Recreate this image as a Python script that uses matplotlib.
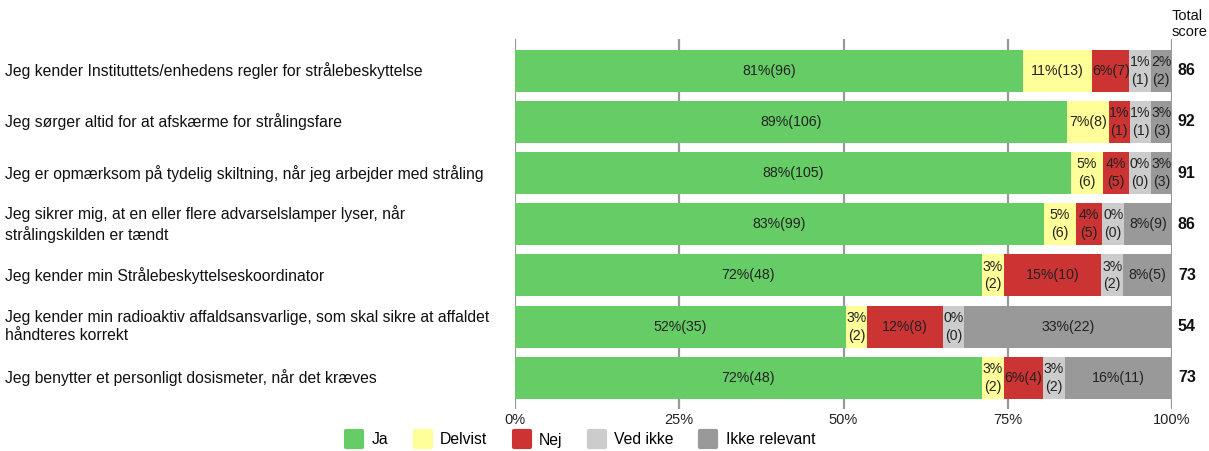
import matplotlib.pyplot as plt
from matplotlib.lines import Line2D
from matplotlib.markers import MarkerStyle
import matplotlib.transforms as mtransforms

plt.rcParams['font.family'] = ['Liberation Sans', 'DejaVu Sans']

# data
questions = [
    'Jeg kender Instituttets/enhedens regler for strålebeskyttelse',
    'Jeg sørger altid for at afskærme for strålingsfare',
    'Jeg er opmærksom på tydelig skiltning, når jeg arbejder med stråling',
    'Jeg sikrer mig, at en eller flere advarselslamper lyser, når\nstrålingskilden er tændt',
    'Jeg kender min Strålebeskyttelseskoordinator',
    'Jeg kender min radioaktiv affaldsansvarlige, som skal sikre at affaldet\nhåndteres korrekt',
    'Jeg benytter et personligt dosismeter, når det kræves',
]
answers = ['Ja', 'Delvist', 'Nej', 'Ved ikke', 'Ikke relevant']
# counts per answer
ja = [96, 106, 105, 99, 48, 35, 48]
delvist = [13, 8, 6, 6, 2, 2, 2]
nej = [7, 1, 5, 5, 10, 8, 4]
ved_ikke = [1, 1, 0, 0, 2, 0, 2]
ikke_relevant = [2, 3, 3, 9, 5, 22, 11]
# percentages as printed
ja_pct = [81, 89, 88, 83, 72, 52, 72]
delvist_pct = [11, 7, 5, 5, 3, 3, 3]
nej_pct = [6, 1, 4, 4, 15, 12, 6]
ved_ikke_pct = [1, 1, 0, 0, 3, 0, 3]
ikke_relevant_pct = [2, 3, 3, 8, 8, 33, 16]
total_score = [86, 92, 91, 86, 73, 54, 73]

colors = ['#66cc66', '#ffff99', '#cc3333', '#cccccc', '#999999']
min_share = 3.4  # smallest segments are drawn with a minimum width

fig = plt.figure(figsize=(12.09, 4.51), dpi=100)
ax = fig.add_axes([515 / 1209, 1 - 409 / 451, 657 / 1209, 370 / 451])

counts = list(zip(ja, delvist, nej, ved_ikke, ikke_relevant))
pcts = list(zip(ja_pct, delvist_pct, nej_pct, ved_ikke_pct, ikke_relevant_pct))
renderer = fig.canvas.get_renderer()

for xg in [0, 25, 50, 75, 100]:
    ax.axvline(xg, color='#999999', lw=1.6, zorder=0)

for i, (row, prow) in enumerate(zip(counts, pcts)):
    n = sum(row)
    shown = [max(c / n * 100, min_share) for c in row]
    s = sum(shown)
    widths = [w / s * 100 for w in shown]
    left = 0
    for j, (w, p, c) in enumerate(zip(widths, prow, row)):
        ax.barh(i, w, left=left, height=0.82, color=colors[j], zorder=2)
        t = ax.text(left + w / 2, i, f'{p}%({c})', ha='center', va='center',
                    fontsize=10.2, color='#222222', zorder=3, linespacing=1.35)
        bb = t.get_window_extent(renderer)
        if bb.width > w / 100 * 657 + 3:
            t.set_text(f'{p}%\n({c})')
        left += w

ax.set_xlim(0, 100)
ax.set_ylim(6.61, -0.62)
for sp in ax.spines.values():
    sp.set_visible(False)
ax.set_yticks([])
ax.set_xticks([0, 25, 50, 75, 100])
ax.set_xticklabels(['0%', '25%', '50%', '75%', '100%'], fontsize=10.5, color='#222222')
ax.tick_params(axis='x', length=0, pad=3)

# question labels and total score
trans = mtransforms.blended_transform_factory(fig.transFigure, ax.transData)
for i, q in enumerate(questions):
    fig.text(5 / 1209, i, q, transform=trans, ha='left', va='center',
             fontsize=11.3, linespacing=1.3, color='#111111')
    fig.text(1178 / 1209, i, str(total_score[i]), transform=trans, ha='left',
             va='center', fontsize=11.5, fontweight='bold', color='#111111')

fig.text(1172 / 1209, 1 - 24 / 451, 'Total\nscore', ha='left', va='center',
         fontsize=10.5, color='#111111', linespacing=1.1)

handles = [Line2D([], [], marker=MarkerStyle('s', joinstyle='round'), ls='none',
                  markersize=11, markeredgewidth=3,
                  markerfacecolor=c, markeredgecolor=c) for c in colors]
fig.legend(handles, answers, loc='center', bbox_to_anchor=(580 / 1209, 1 - 440 / 451),
           ncol=5, frameon=False, fontsize=11.3, handletextpad=0.5,
           columnspacing=1.6, handlelength=1.2)

fig.savefig('out.png', dpi=100)
